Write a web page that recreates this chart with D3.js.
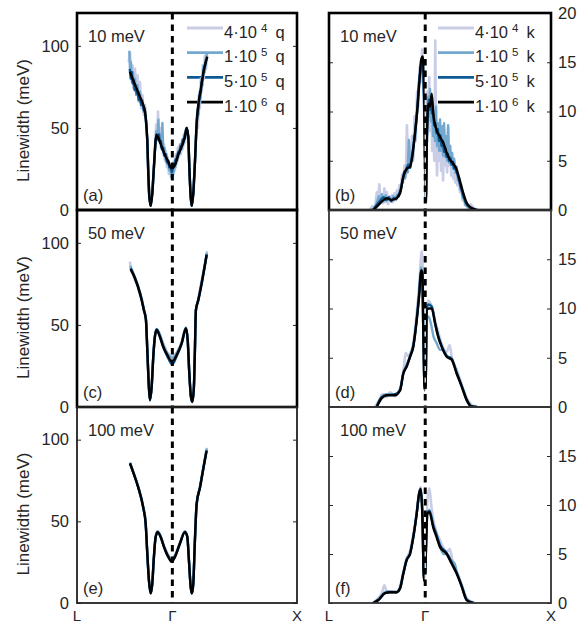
<!DOCTYPE html>
<html lang="en">
<head>
<meta charset="UTF-8">
<title>Linewidth convergence</title>
<script src="https://d3js.org/d3.v7.min.js"></script>
<style>
  body { margin: 0; background: #fff; }
  text { font-family: "Liberation Sans", Arial, sans-serif; fill: #262626; }
</style>
</head>
<body>
<div id="chart"></div>
<script>
// path coordinate in % of |Gamma-X|: L = -76.5, Gamma = 0, X = 100
const qTicks = [-76.5, 0, 100];
const qLabels = ["L", "\u0393", "X"];

const sampleMant = ["4\u00b710", "1\u00b710", "5\u00b710", "1\u00b710"];
const sampleExp = ["4", "5", "5", "6"];
const energies = ["10 meV", "50 meV", "100 meV"];
const panelTags = ["(a)", "(b)", "(c)", "(d)", "(e)", "(f)"];

const qTickVals = [0, 50, 100];
const kTickVals = [0, 5, 10, 15, 20];

// ---- (a) q, 10 meV ----
const a4e4 = [[-35,90],[-34,96],[-33,80],[-32,88],[-31,74],[-30,86],[-29,72],[-28,82],[-27,66],[-26,78],[-25,62],[-24,70],[-23,58],[-22,64],[-21,52],[-20.1,42],[-19.3,22],[-18.5,8],[-17.4,3],[-16.1,10],[-14.8,27],[-13.8,40],[-13,52],[-12.2,44],[-11.5,60],[-10.8,42],[-10,50],[-9.2,38],[-8.4,46],[-7.6,34],[-6.8,40],[-6,30],[-5.2,36],[-4.4,26],[-3.6,32],[-2.8,22],[-2,28],[-1.2,20],[-0.4,26],[0.4,20],[1.2,30],[2,24],[2.8,34],[3.6,28],[4.4,38],[5.2,32],[6,40],[6.8,34],[7.6,42],[8.4,37],[9.2,46],[10,41],[10.8,49],[11.5,50],[12.8,44],[13.6,26],[14.7,8],[15.5,3],[16.8,10],[18.1,29],[19,46],[19.8,58],[20.5,50],[21.2,70],[22,62],[22.8,80],[23.6,72],[24.4,88],[25.2,80],[26,94],[27,86],[28,95]];
const a1e5 = [[-34.5,97],[-34,86],[-33.2,90],[-32.4,78],[-31.6,84],[-30.8,74],[-30,80],[-29,70],[-28,76],[-27,68],[-26,72],[-25,64],[-24,67],[-23,60],[-22,62],[-21.2,54],[-20.1,42],[-19.3,22],[-18.5,8],[-17.4,3],[-16.1,10],[-14.8,26],[-13.6,42],[-12.8,48],[-12,43],[-11.2,55],[-10.5,42],[-9.6,46],[-8.8,38],[-8,53],[-7.2,35],[-6.4,38],[-5.6,31],[-4.8,34],[-4,28],[-3.2,30],[-2.4,24],[-1.6,26],[-0.8,20],[0,24],[0.8,22],[1.6,28],[2.4,26],[3.2,33],[4,30],[4.8,36],[5.6,34],[6.4,40],[7.2,37],[8,43],[8.8,40],[9.6,46],[10.4,44],[11.5,50],[12.8,44],[13.6,26],[14.7,8],[15.5,3],[16.8,10],[18.1,29],[19.5,54],[20.3,62],[21,58],[21.8,72],[22.6,68],[23.4,80],[24.2,76],[25,88],[26,84],[27,92],[27.8,96]];
const a5e5 = [[-34.2,86],[-33.4,80],[-32.6,84],[-31.8,77],[-31,79],[-30.2,73],[-29.4,75],[-28.6,71],[-27.8,72],[-27,67],[-26,68],[-25,64],[-24,65],[-23,61],[-22,60],[-21.2,55],[-20.1,42.6],[-19.3,22.5],[-18.5,8],[-17.4,2.6],[-16.1,10],[-14.8,26],[-13.4,42],[-12.6,46],[-11.6,43],[-10.8,46],[-10,41],[-9.2,42],[-8.4,37],[-7.4,38],[-6.4,33],[-5.4,34],[-4.4,29],[-3.4,30],[-2.4,26],[-1.4,27],[-0.4,23],[0.6,26],[1.6,27],[2.6,31],[3.6,31],[4.6,35],[5.6,35],[6.6,39],[7.6,39],[8.6,43],[9.6,43],[10.6,48],[11.5,50],[12.8,44.7],[13.6,26.4],[14.7,8],[15.5,2.6],[16.8,10],[18.1,28.6],[19.5,53],[20.4,60],[21.2,64],[22,69],[22.8,72],[23.6,78],[24.4,80],[25.2,86],[26.2,88],[27.2,92]];
const a1e6 = [[-34,84.3],[-31.4,79],[-28.7,74],[-26,69],[-23.8,65],[-22,60],[-21.2,55],[-20.1,42.6],[-19.3,22.5],[-18.5,8],[-17.4,2.6],[-16.1,10],[-14.8,26],[-13.4,42.6],[-12.6,45.7],[-10.5,42.6],[-8.6,38.6],[-5.9,33.5],[-3.3,29.5],[-0.6,25.4],[2.1,27.4],[4.7,33.5],[7.5,38.6],[10.1,44.7],[11.5,49.8],[12.8,44.7],[13.6,26.4],[14.7,8],[15.5,2.6],[16.8,10],[18.1,28.6],[19.5,52.8],[20.8,64],[22.7,73],[24.8,83.3],[28,93.4]];

// ---- (b) k, 10 meV ----
const b4e4 = [[-44,0],[-42,0.4],[-40,0.2],[-38.5,1.8],[-37.5,0.6],[-36.5,2.6],[-35.5,0.9],[-34.5,1.6],[-33.5,0.7],[-32.5,2.2],[-31.5,0.8],[-30.5,1.8],[-29.5,0.6],[-28.5,1.4],[-27.5,0.9],[-26.5,1.5],[-25.5,0.8],[-24.5,1.7],[-23.5,1.0],[-22.5,2.0],[-21.5,1.5],[-20.5,2.5],[-19.5,2.0],[-18.5,3.6],[-17.5,2.8],[-16.5,4.5],[-15.5,3.4],[-14.5,8.6],[-13.5,3.9],[-12.5,6.5],[-11.5,4.4],[-10.5,7.5],[-9.5,5.2],[-8.5,9.5],[-7.5,7.0],[-6.5,12],[-5.5,10.5],[-4.5,14.5],[-3.5,13],[-2.5,16.3],[-1.5,14.5],[-0.8,9],[0,2],[0.8,5],[1.6,12],[2.4,9],[3.2,13.5],[4,8],[4.8,11],[5.6,6],[6.4,9],[7.2,5],[8,17.2],[8.6,7],[9.4,3.5],[10.2,8.5],[11,5],[11.8,7.8],[12.6,4],[13.4,6.5],[14.2,3],[15,8.2],[15.8,4.5],[16.6,7],[17.4,3.8],[18.2,8.4],[19,4.5],[19.8,6.5],[20.6,3.5],[21.4,5.5],[22.2,3.2],[23,5],[23.8,2.8],[24.6,4.4],[25.6,2.5],[26.6,3.4],[27.6,1.8],[28.6,2.6],[29.6,1.0],[30.6,1.6],[31.6,0.5],[32.6,0.9],[34,0.2],[36,0.6],[38,0.3],[40,0.1],[42,0]];
const b1e5 = [[-42,0],[-39,0.5],[-37,1.4],[-36,0.7],[-34.5,1.6],[-33,0.9],[-31.5,1.5],[-30,1.0],[-28.5,1.3],[-27,0.9],[-25.5,1.4],[-24,1.1],[-22.5,1.5],[-21,1.6],[-19.5,2.2],[-18,3.0],[-17,3.8],[-16,3.2],[-15,4.5],[-14,3.8],[-13,7.1],[-12,4.3],[-11,5.5],[-10,5.0],[-9,7.5],[-8,7.2],[-7,9.8],[-6,10.4],[-5,13],[-4,13.4],[-3,15],[-2,14.6],[-1,11.5],[-0.2,5],[0.6,1.2],[1.4,8],[2.2,11.5],[3,9.5],[3.8,12.3],[4.6,9],[5.4,11],[6.2,7.5],[7,9.5],[7.8,7],[8.6,10.5],[9.4,6.5],[10.2,8.8],[11,6],[11.8,9.2],[12.6,6],[13.4,8.5],[14.2,5.5],[15,8.8],[15.8,5.4],[16.6,7.5],[17.4,5],[18.2,8.6],[19,4.8],[19.8,6.5],[20.6,4.6],[21.4,5.8],[22.2,4.2],[23,5.2],[24,3.8],[25,4.4],[26,3.0],[27,3.3],[28,2.1],[29,2.0],[30,1.2],[31,1.1],[32,0.5],[34,0.3],[37,0.2],[41,0]];
const b5e5 = [[-41.5,0],[-38,0.6],[-35,1.1],[-33,1.3],[-31,1.0],[-29,1.3],[-27,0.9],[-25,1.2],[-23,1.1],[-21,1.6],[-19.5,2.0],[-18,3.0],[-16.5,3.9],[-15,4.0],[-13.5,4.6],[-12,4.3],[-10.5,5.4],[-9.5,6.4],[-8.5,7.3],[-7.5,8.6],[-6.5,9.8],[-5.5,11.9],[-4.5,13.6],[-3.5,14.2],[-2.5,15.1],[-1.5,14],[-0.8,10.5],[-0.2,5],[0.6,0.8],[1.4,7.5],[2.2,10],[3,11.2],[3.8,10.2],[4.6,11.2],[5.4,9.8],[6.2,10.2],[7,8.6],[8,8.8],[9,7.8],[10,8.2],[11,7.0],[12,7.6],[13,6.5],[14,7.0],[15,5.9],[16,6.3],[17,5.4],[18,5.7],[19,5.0],[20,5.3],[21,4.6],[22,4.9],[23,4.2],[24,4.4],[25,3.8],[26,3.5],[27,3.0],[28,2.4],[29,2.0],[30,1.5],[31,1.2],[32,0.8],[33.5,0.5],[36,0.2],[40,0]];
const b1e6 = [[-41.3,0],[-37.3,0.5],[-33.3,1.0],[-30.6,1.2],[-28.5,1.1],[-26.6,1.0],[-24.5,1.1],[-22.7,1.2],[-20,1.7],[-17.4,3.4],[-14.7,4.2],[-12.1,4.4],[-9.9,5.8],[-8.1,7.8],[-6.3,10.2],[-4.7,12.9],[-3.3,15.2],[-2.0,15.6],[-1.0,12.9],[-0.2,6.1],[0.6,1.0],[1.4,7.8],[2.5,10.8],[3.8,10.5],[5.2,11.8],[6.4,9.8],[9.1,8.1],[11.8,7.4],[14.4,6.8],[17.1,5.8],[19.7,5.1],[22.3,4.7],[25,4.1],[27.7,2.9],[30.3,1.7],[33,0.7],[37,0.2],[40.9,0]];

// ---- (c) q, 50 meV ----
const c4e4 = [[-34,88.5],[-33,83],[-31.5,81],[-30,77],[-28,74],[-26,68],[-24.5,66],[-22.8,59],[-21.2,54],[-20.1,35],[-19,15],[-18,4.5],[-16.6,12.5],[-15.3,31],[-14,43],[-12.6,47.5],[-10,44],[-7.3,38],[-4.1,33],[-0.1,31],[3.5,33],[7.5,39.5],[10.9,48],[12.3,41],[13.6,20.5],[14.9,6.5],[16,3.5],[17.3,12.5],[18.1,35],[18.9,59],[20.8,66],[23.5,77],[25.5,84],[27.8,95]];
const c1e5 = [[-33.8,86],[-30,79],[-26,70],[-22.8,59.5],[-21.2,53.5],[-20.1,35],[-19,14.6],[-18,4.3],[-16.6,12.4],[-15.3,30.6],[-14,43],[-12.6,47.5],[-10,44],[-7.3,38.5],[-4.1,33],[-0.1,30],[3.5,33],[7.5,39.5],[10.9,48.5],[12.3,41],[13.6,20.5],[14.9,6.3],[16,3.2],[17.3,12.4],[18.1,34.7],[18.9,59],[20.8,65.5],[23.5,76],[27.7,94]];
const c5e5 = [[-33.5,84.5],[-30,78.6],[-26,69.5],[-22.8,59],[-21.2,53],[-20.1,34.7],[-19,14.6],[-18,4],[-16.6,12.4],[-15.3,30.6],[-14,43],[-12.6,47.3],[-10,43],[-7.3,36.5],[-4.1,31],[-0.1,26],[3.5,31],[7.5,38.8],[10.9,48],[12.3,40.8],[13.6,20.5],[14.9,6.3],[16,3],[17.3,12.4],[18.1,34.7],[18.9,59],[20.8,65],[23.5,75.5],[27.6,93]];
const c1e6 = [[-33.5,84],[-30,78.4],[-26,69.2],[-22.8,59],[-21.2,53],[-20.1,34.7],[-19,14.6],[-18,4.3],[-16.6,12.4],[-15.3,30.6],[-14,42.8],[-12.6,46.9],[-10,42.8],[-7.3,36.7],[-4.1,31.7],[-0.1,27.6],[3.5,31.7],[7.5,38.8],[10.9,47.9],[12.3,40.8],[13.6,20.5],[14.9,6.3],[16,3.2],[17.3,12.4],[18.1,34.7],[18.9,59],[20.8,65],[23.5,75],[27.5,92.6]];

// ---- (d) k, 50 meV ----
const d4e4 = [[-40,0],[-37,0.6],[-34,1.3],[-31,1.0],[-28,1.5],[-24,1.1],[-20,1.9],[-17.4,3.6],[-15.5,5.5],[-14,5.2],[-12.1,5.4],[-9.5,6.5],[-6.8,9.5],[-4.7,12.5],[-2.8,15.8],[-2,14],[-1.3,8],[-0.4,2.5],[0.4,3.5],[1.2,10],[2.5,10.8],[5.2,10.2],[7.8,8.8],[10.4,7.6],[13.1,6.4],[17.1,5.6],[19.5,6.3],[21.1,5.0],[25,3.8],[29,2.3],[33,0.9],[37,0.2],[42,0]];
const d1e5 = [[-39,0],[-35,1.0],[-31,1.3],[-24,1.2],[-20,1.8],[-17.4,3.5],[-14.7,4.3],[-12.1,5.2],[-9.5,6.3],[-6.8,9.0],[-4.7,12],[-3.3,14.2],[-2.3,13.5],[-1.5,7.5],[-0.4,1.8],[0.4,2.8],[1.2,9.0],[2.5,9.2],[4.5,8.5],[6.5,7.2],[9,6.5],[11.8,5.8],[14,5.8],[17.1,5.2],[21.1,4.8],[25,3.5],[29,2.2],[33,0.8],[37,0.1],[41,0]];
const d5e5 = [[-38.6,0],[-34.6,1.0],[-30.6,1.2],[-24,1.3],[-20,1.7],[-17.4,3.4],[-14.7,4.2],[-12.1,5.1],[-9.5,6.2],[-6.8,8.8],[-4.7,11.6],[-3.3,13.8],[-2.3,13.5],[-1.5,7.5],[-0.4,1.7],[0.4,2.7],[1.2,10],[2.5,10.4],[5.2,10.2],[7.8,8.6],[10.4,7.2],[13.1,6.2],[17.1,5.2],[21.1,4.9],[25,3.5],[29,2.1],[33,0.7],[36.2,0.1],[40.9,0]];
const d1e6 = [[-38.6,0],[-34.6,0.9],[-30.6,1.2],[-24,1.2],[-20,1.7],[-17.4,3.4],[-14.7,4.1],[-12.1,5.1],[-9.5,6.1],[-6.8,8.8],[-4.7,11.5],[-3.3,13.9],[-2.3,13.7],[-1.5,7.5],[-0.4,1.7],[0.4,2.7],[1.2,9.8],[2.5,10],[5.2,10],[7.8,8.5],[10.4,7.1],[13.1,6.1],[17.1,5.1],[21.1,4.8],[25,3.4],[29,2.1],[33,0.7],[36.2,0.1],[40.9,0]];

// ---- (e) q, 100 meV ----
const e4e4 = [[-34,86],[-31.4,80.5],[-27.4,71.5],[-23.4,59],[-21.4,49],[-20.1,30.5],[-18.8,14],[-17.4,6],[-16.1,12],[-14.8,28.2],[-13.4,40.6],[-11.8,44],[-9.4,41],[-6.7,35],[-3.3,29.5],[-0.6,27.5],[2.1,29.5],[6.1,37],[10.1,44],[12,41],[13.3,26.5],[14.7,10],[15.7,6],[16.8,12],[18.1,38.4],[19.5,61],[22.2,71.5],[24.8,83],[27.6,95]];
const e1e5 = [[-34,86],[-31.4,80.3],[-27.4,71],[-23.4,58.8],[-21.4,48.6],[-20.1,30.3],[-18.8,14],[-17.4,5.9],[-16.1,12],[-14.8,28.2],[-13.4,40.5],[-11.8,43.8],[-9.4,40.7],[-6.7,34.8],[-3.3,29],[-0.6,26.5],[2.1,29],[6.1,36.8],[10.1,43.8],[12,40.6],[13.3,26.3],[14.7,9.9],[15.7,5.9],[16.8,12],[18.1,38.4],[19.5,60.8],[22.2,71],[24.8,82.5],[27.6,94.5]];
const e5e5 = [[-34,85.6],[-31.4,80.1],[-27.4,70.9],[-23.4,58.7],[-21.4,48.5],[-20.1,30.3],[-18.8,14],[-17.4,5.9],[-16.1,12],[-14.8,28.2],[-13.4,40.4],[-11.8,43.5],[-9.4,40.5],[-6.7,34.4],[-3.3,28.4],[-0.6,25.6],[2.1,28.4],[6.1,36.5],[10.1,43.5],[12,40.4],[13.3,26.2],[14.7,9.9],[15.7,5.9],[16.8,12],[18.1,38.4],[19.5,60.7],[22.2,70.9],[24.8,82.2],[27.5,93.6]];
const e1e6 = [[-34,85.4],[-31.4,80],[-27.4,70.8],[-23.4,58.6],[-21.4,48.5],[-20.1,30.3],[-18.8,14],[-17.4,5.9],[-16.1,12],[-14.8,28.2],[-13.4,40.4],[-11.8,43.4],[-9.4,40.4],[-6.7,34.3],[-3.3,28.2],[-0.6,25.2],[2.1,28.2],[6.1,36.4],[10.1,43.4],[12,40.4],[13.3,26.2],[14.7,9.9],[15.7,5.9],[16.8,12],[18.1,38.4],[19.5,60.7],[22.2,70.8],[24.8,82],[27.5,93.2]];

// ---- (f) k, 100 meV ----
const f4e4 = [[-42,0],[-38,0.4],[-34.5,1.0],[-32.5,1.8],[-30.5,1.2],[-28,1.2],[-22.7,1.2],[-20,1.7],[-17.4,3.2],[-14.7,4.6],[-12.1,5.3],[-9.5,7.0],[-6.8,9.3],[-4.9,11.3],[-3.6,11.8],[-2.3,9.5],[-1.0,3.0],[0.1,4.5],[1.7,10.5],[3.3,11.7],[4.8,10],[6.4,8.5],[9.1,7.2],[11.8,6.4],[14.5,5.6],[17.1,5.2],[19.5,5.5],[21.1,4.7],[23.3,3.5],[25,3.2],[29,1.9],[33,0.5],[36,0.2],[40,0]];
const f1e5 = [[-41.3,0],[-37.3,0.4],[-32,1.1],[-28,1.2],[-22.7,1.1],[-20,1.6],[-17.4,3.1],[-14.7,4.5],[-12.1,5.1],[-9.5,6.8],[-6.8,9.1],[-4.9,11.2],[-3.6,11.7],[-2.3,9.2],[-1.0,2.5],[0.1,3.9],[1.7,9.3],[3.3,9.5],[6.4,8.0],[9.1,7.0],[11.8,5.8],[14.5,5.0],[17.1,5.0],[21.1,4.3],[23.5,4.0],[25,3.2],[29,1.8],[33,0.4],[38.2,0]];
const f5e5 = [[-41.3,0],[-37.3,0.3],[-32,1.0],[-28,1.1],[-22.7,1.1],[-20,1.5],[-17.4,3.0],[-14.7,4.4],[-12.1,5.0],[-9.5,6.7],[-6.8,9.1],[-4.9,11.1],[-3.6,11.6],[-2.3,9.1],[-1.0,2.3],[0.1,3.7],[1.7,9.2],[3.3,9.4],[6.4,7.9],[9.1,6.9],[11.8,5.9],[17.1,5.1],[21.1,4.1],[25,3.1],[29,1.7],[33,0.3],[38.2,0]];
const f1e6 = [[-41.3,0],[-37.3,0.3],[-32,1.0],[-28,1.1],[-22.7,1.1],[-20,1.5],[-17.4,3.0],[-14.7,4.4],[-12.1,5.0],[-9.5,6.7],[-6.8,9.1],[-4.9,11.1],[-3.6,11.6],[-2.3,9.1],[-1.0,2.3],[0.1,3.7],[1.7,9.1],[3.3,9.3],[6.4,7.7],[9.1,6.7],[11.8,5.7],[17.1,5.0],[21.1,4.0],[25,3.0],[29,1.7],[33,0.3],[38.2,0]];

// ---- layout ----
const W = 587, H = 625;
const cols = [{ left: 77, right: 297 }, { left: 329, right: 551 }];
const rows = [{ top: 13, bottom: 210 }, { top: 210, bottom: 407 }, { top: 407, bottom: 603 }];
const colors = ["#c9cde6", "#74a9cf", "#0c5a94", "#000000"];
const widths = [2.6, 2.4, 2.4, 2.4];
const fontSize = "16.5px";

const panels = [
    { row: 0, col: 0, series: [a4e4, a1e5, a5e5, a1e6], noisy: true },
    { row: 0, col: 1, series: [b4e4, b1e5, b5e5, b1e6], noisy: true },
    { row: 1, col: 0, series: [c4e4, c1e5, c5e5, c1e6] },
    { row: 1, col: 1, series: [d4e4, d1e5, d5e5, d1e6] },
    { row: 2, col: 0, series: [e4e4, e1e5, e5e5, e1e6] },
    { row: 2, col: 1, series: [f4e4, f1e5, f5e5, f1e6] }
];
// frame weight per panel, as in the figure
const frames = [
    { w: 2.6, c: "#000" }, { w: 2.6, c: "#000" }, { w: 2.6, c: "#000" },
    { w: 1.8, c: "#333" }, { w: 1.8, c: "#222" }, { w: 1.8, c: "#333" }
];

const svg = d3.select("#chart")
    .append("svg")
    .attr("width", W)
    .attr("height", H);

panels.forEach((p, i) => {
    const c = cols[p.col], r = rows[p.row];
    const isK = p.col === 1;

    const x = d3.scaleLinear().domain([qTicks[0], qTicks[2]]).range([c.left, c.right]);
    const y = d3.scaleLinear().domain(isK ? [0, 20] : [0, 120]).range([r.bottom, r.top]);
    let ticks = isK ? kTickVals : qTickVals;
    if (isK && p.row > 0) ticks = ticks.slice(0, 4);

    const g = svg.append("g").attr("class", "panel");

    g.append("clipPath").attr("id", "clip" + i)
        .append("rect")
        .attr("x", c.left).attr("y", r.top)
        .attr("width", c.right - c.left).attr("height", r.bottom - r.top);

    // inner ticks, both sides
    const leftAx = g.append("g")
        .attr("transform", `translate(${c.left},0)`)
        .call(d3.axisLeft(y).tickValues(ticks).tickSize(-4).tickPadding(8)
            .tickFormat(isK ? "" : d3.format("d")));
    const rightAx = g.append("g")
        .attr("transform", `translate(${c.right},0)`)
        .call(d3.axisRight(y).tickValues(ticks).tickSize(-4).tickPadding(7)
            .tickFormat(isK ? d3.format("d") : ""));
    [leftAx, rightAx].forEach(ax => {
        ax.select(".domain").remove();
        ax.selectAll("line").attr("stroke", "#262626");
        ax.selectAll("text").style("font-size", fontSize).attr("fill", "#262626")
            .style("font-family", "'Liberation Sans', Arial, sans-serif");
    });

    // x tick labels on the bottom row only
    if (p.row === 2) {
        g.selectAll(".qlab")
            .data(qTicks)
            .enter()
            .append("text")
            .attr("x", d => x(d))
            .attr("y", 621)
            .attr("text-anchor", "middle")
            .style("font-size", "15px")
            .text((d, j) => qLabels[j]);
    }

    // legend (top row)
    if (p.row === 0) {
        const lx = isK ? 438 : 187;
        const unit = isK ? "k" : "q";
        sampleMant.forEach((m, j) => {
            const ly = r.top + 15 + j * 24.7;
            g.append("line")
                .attr("x1", lx).attr("x2", lx + 36)
                .attr("y1", ly).attr("y2", ly)
                .attr("stroke", colors[j]).attr("stroke-width", widths[j] + 0.3);
            const t = g.append("text")
                .attr("x", lx + 37).attr("y", ly + 9.5)
                .style("font-size", fontSize);
            t.append("tspan").text(m);
            t.append("tspan").attr("dx", 4).attr("dy", -6).style("font-size", "11.5px").text(sampleExp[j]);
            t.append("tspan").attr("dx", 8).attr("dy", 6).text(unit);
        });
    }

    // data
    const plot = g.append("g").attr("clip-path", `url(#clip${i})`);
    p.series.forEach((s, j) => {
        const smooth = !p.noisy || j === 3;
        const line = d3.line()
            .x(d => x(d[0]))
            .y(d => y(d[1]))
            .curve(smooth ? d3.curveMonotoneX : d3.curveLinear);
        plot.append("path")
            .datum(s)
            .attr("d", line)
            .attr("fill", "none")
            .attr("stroke", colors[j])
            .attr("stroke-width", widths[j])
            .attr("stroke-linejoin", "round");
    });

    // Gamma marker
    if (isK) {
        g.append("line")
            .attr("x1", x(0)).attr("x2", x(0))
            .attr("y1", r.top).attr("y2", r.bottom)
            .attr("stroke", "#fff").attr("stroke-width", 1.2);
    }
    g.append("line")
        .attr("x1", x(0)).attr("x2", x(0))
        .attr("y1", r.top).attr("y2", r.bottom)
        .attr("stroke", "#000").attr("stroke-width", 3)
        .attr("stroke-dasharray", "6.5,5");

    // labels
    g.append("text")
        .attr("x", c.left + 11).attr("y", r.top + 29)
        .style("font-size", fontSize)
        .text(energies[p.row]);
    g.append("text")
        .attr("x", c.left + 6).attr("y", r.bottom - 9)
        .style("font-size", fontSize)
        .text(panelTags[i]);

    if (!isK) {
        g.append("text")
            .attr("transform", `translate(29,${(r.top + r.bottom) / 2 + 9}) rotate(-90)`)
            .attr("text-anchor", "middle")
            .style("font-size", "17px")
            .text("Linewidth (meV)");
    }

    g.append("rect")
        .attr("x", c.left).attr("y", r.top)
        .attr("width", c.right - c.left).attr("height", r.bottom - r.top)
        .attr("fill", "none")
        .attr("stroke", frames[i].c)
        .attr("stroke-width", frames[i].w);
});
</script>
</body>
</html>
